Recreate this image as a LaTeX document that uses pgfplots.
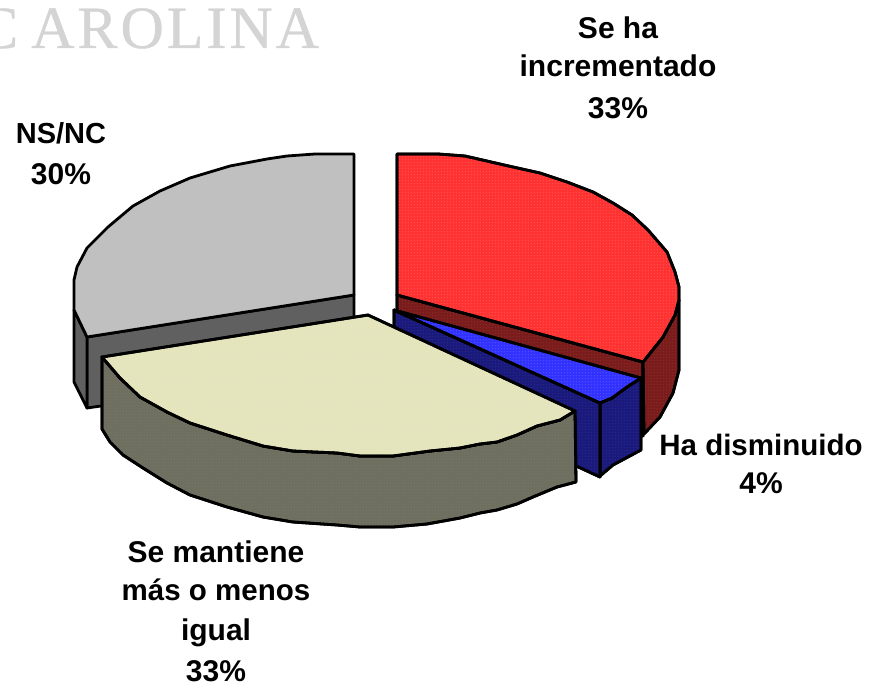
\documentclass[border=0pt]{standalone}
\usepackage{pgfplots}
\usetikzlibrary{patterns}
\pgfplotsset{compat=1.18}
\usepackage{fontspec}
\setmainfont{Liberation Sans}
\newfontfamily\wm[LetterSpace=5,FakeBold=0.6]{Liberation Serif}
\pgfdeclarepatternformonly{finedots}{\pgfqpoint{-1pt}{-1pt}}{\pgfqpoint{2pt}{2pt}}{\pgfqpoint{3pt}{3pt}}{%
  \pgfpathrectangle{\pgfqpoint{0pt}{0pt}}{\pgfqpoint{1pt}{1pt}}\pgfusepath{fill}}
\definecolor{gtop}{RGB}{192,192,192}
\definecolor{gside}{RGB}{96,96,96}
\definecolor{rtop}{RGB}{255,50,50}
\definecolor{rdot}{RGB}{255,110,110}
\definecolor{rside}{RGB}{122,28,28}
\definecolor{rsdot}{RGB}{150,60,60}
\definecolor{btop}{RGB}{50,50,255}
\definecolor{bdot}{RGB}{110,110,255}
\definecolor{bside}{RGB}{26,26,124}
\definecolor{bsdot}{RGB}{55,55,150}
\definecolor{ctop}{RGB}{228,228,190}
\definecolor{cdot}{RGB}{240,240,170}
\definecolor{cside}{RGB}{110,111,96}
\definecolor{csdot}{RGB}{125,126,100}
\tikzset{tex/.style={postaction={pattern=finedots,pattern color=#1}}}
\begin{document}
\begin{tikzpicture}[x=1pt,y=1pt]
\path[use as bounding box] (0,0) rectangle (869,685);
\begin{axis}[scale only axis,width=869pt,height=685pt,xmin=0,xmax=869,ymin=0,ymax=685,y dir=reverse,hide axis,clip=false,
  every axis plot/.append style={draw=black,line width=2.8pt,line join=round}]
% NS/NC
\addplot[fill=gside] coordinates {(87,337)(354,295)(354,370)(87,408)} --cycle;
\addplot[fill=gside] coordinates {(74,310)(74,382)(87,408)(87,337)} --cycle;
\addplot[fill=gtop] coordinates {(354,154)(315,154)(287,156)(267,159)(230,166)(190,178)(160,191)(133,206)(108,227)(87,248)(77,267)(74,280)(74,310)(87,337)(354,295)} --cycle;
% Se ha incrementado
\addplot[fill=rside,tex=rsdot] coordinates {(397,295)(643,362)(643,436)(397,320)} --cycle;
\addplot[fill=rside,tex=rsdot] coordinates {(643,362)(663,337)(675,315)(679,300)(679,370)(673,393)(660,417)(644,434)} --cycle;
\addplot[fill=rtop,tex=rdot] coordinates {(397,154)(438,154)(465,156)(513,167)(540,173)(567,182)(593,192)(613,203)(632,215)(648,230)(667,252)(675,272)(679,287)(679,300)(675,315)(663,337)(643,362)(397,295)} --cycle;
% Ha disminuido
\addplot[fill=bside,tex=bsdot] coordinates {(600,403)(612,398)(627,387)(641,378)(641,450)(613,465)(600,476)} --cycle;
\addplot[fill=bside,tex=bsdot] coordinates {(394,310)(600,403)(600,477)(394,382)} --cycle;
\addplot[fill=btop,tex=bdot] coordinates {(394,310)(641,378)(627,387)(612,398)(600,403)} --cycle;
% Se mantiene
\addplot[fill=cside,tex=csdot] coordinates {(575,411)(560,420)(537,426)(517,435)(497,442)(480,444)(460,448)(430,451)(393,456)(360,456)(337,453)(293,451)(263,446)(227,435)(190,423)(167,412)(140,397)(120,378)(102,357)(102,429)(110,442)(123,455)(143,468)(167,483)(190,495)(227,507)(263,517)(293,522)(337,525)(360,527)(393,527)(427,524)(460,518)(480,513)(497,510)(517,504)(533,497)(557,487)(576,482)} --cycle;
\addplot[fill=ctop,tex=cdot] coordinates {(102,357)(368,315)(575,411)(560,420)(537,426)(517,435)(497,442)(480,444)(460,448)(430,451)(393,456)(360,456)(337,453)(293,451)(263,446)(227,435)(190,423)(167,412)(140,397)(120,378)} --cycle;
% watermark and labels
\node[anchor=base west,inner sep=0pt,text=black!17,font=\wm\fontsize{60}{60}\selectfont] at (axis cs:-22,48) {C\kern13pt AROLINA};
\begin{scope}[every node/.style={anchor=base,inner sep=0pt,font=\bfseries\fontsize{30}{30}\selectfont}]
\node at (axis cs:618,38) {Se ha};
\node at (axis cs:618,76) {incrementado};
\node at (axis cs:618,118) {33\%};
\node at (axis cs:61,143) {\fontsize{29}{30}\selectfont NS/NC};
\node at (axis cs:61,184) {30\%};
\node at (axis cs:761,455) {\fontsize{29.5}{30}\selectfont Ha disminuido};
\node at (axis cs:761,493) {4\%};
\node at (axis cs:216,562) {Se mantiene};
\node at (axis cs:216,600) {\fontsize{29.5}{30}\selectfont más o menos};
\node at (axis cs:216,640) {igual};
\node at (axis cs:216,681) {33\%};
\end{scope}
\end{axis}
\end{tikzpicture}
\end{document}
